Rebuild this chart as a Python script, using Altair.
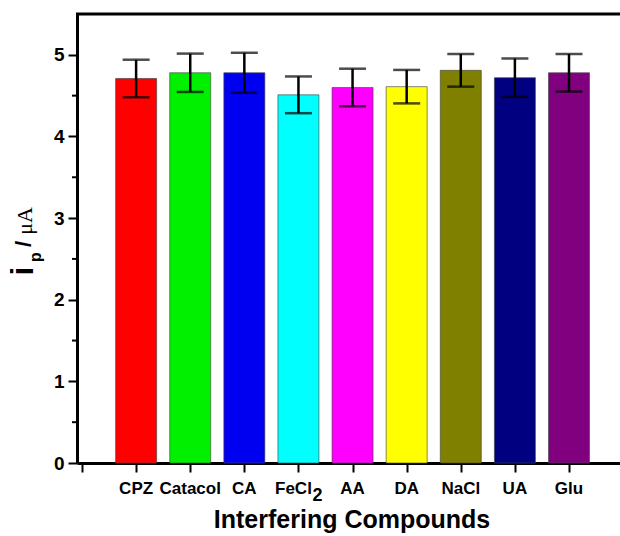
import altair as alt
import pandas as pd

# ---- data ----
compounds = ["CPZ", "Catacol", "CA", "FeCl2", "AA", "DA", "NaCl", "UA", "Glu"]
means = [4.71, 4.78, 4.78, 4.51, 4.60, 4.61, 4.81, 4.72, 4.78]
errors = [0.23, 0.235, 0.245, 0.225, 0.23, 0.205, 0.20, 0.235, 0.23]
y_major = [0, 1, 2, 3, 4, 5]
y_minor = [0.5, 1.5, 2.5, 3.5, 4.5]
palette = ["#FF0000", "#00F000", "#0000F0", "#00FFFF", "#FF00FF",
           "#FFFF00", "#808000", "#000080", "#800080"]

positions = list(range(1, len(compounds) + 1))
df = pd.DataFrame({
    "compound": compounds,
    "pos": positions,
    "mean": means,
    "lo": [m - e for m, e in zip(means, errors)],
    "hi": [m + e for m, e in zip(means, errors)],
})
plain = df[df["compound"] != "FeCl2"]
fecl = df[df["compound"] == "FeCl2"].assign(main="FeCl", sub="2")
minor_df = pd.DataFrame({"v": y_minor})
top_df = pd.DataFrame({"v": [5.5]})

W, H = 543, 449
SANS = "Liberation Sans, Arial, sans-serif"
SERIF = "Liberation Serif, Times New Roman, serif"

xscale = alt.Scale(domain=[0, 9.85], nice=False, zero=False)
yscale = alt.Scale(domain=[0, 5.5], nice=False)

base = alt.Chart(df)

bars = base.mark_bar(size=41, stroke="#444444", strokeWidth=0.8, strokeOpacity=0.8).encode(
    x=alt.X("pos:Q", scale=xscale,
            axis=alt.Axis(values=list(range(10)), labels=False, title=None, grid=False,
                          tickSize=9, tickWidth=2, tickColor="black",
                          domainWidth=3, domainColor="black")),
    y=alt.Y("mean:Q", scale=yscale,
            axis=alt.Axis(values=y_major, format="d", title=None, grid=False,
                          tickSize=9, tickWidth=2, tickColor="black",
                          domainWidth=3, domainColor="black",
                          labelFont=SANS, labelFontSize=19, labelFontWeight="bold",
                          labelColor="black", labelPadding=4)),
    color=alt.Color("compound:N", scale=alt.Scale(domain=compounds, range=palette), legend=None),
)

err_rule = base.mark_rule(color="black", strokeWidth=2.5).encode(
    x="pos:Q", y="lo:Q", y2="hi:Q")
cap_lo = base.mark_tick(color="black", orient="horizontal", size=27, thickness=2.5).encode(
    x="pos:Q", y="lo:Q")
cap_hi = base.mark_tick(color="black", orient="horizontal", size=27, thickness=2.5).encode(
    x="pos:Q", y="hi:Q")

minor = alt.Chart(minor_df).mark_rule(color="black", strokeWidth=2).encode(
    y=alt.Y("v:Q", scale=yscale), x=alt.value(-5), x2=alt.value(0))

top = alt.Chart(top_df).mark_rule(color="black", strokeWidth=3).encode(
    y=alt.Y("v:Q", scale=yscale), x=alt.value(-1), x2=alt.value(W))

xlab = alt.Chart(plain).mark_text(font=SANS, fontSize=17, fontWeight="bold",
                                  color="black", align="center", baseline="alphabetic").encode(
    x=alt.X("pos:Q", scale=xscale), y=alt.value(480), text="compound:N")
xlab_fe = alt.Chart(fecl).mark_text(font=SANS, fontSize=17, fontWeight="bold",
                                    color="black", align="center", baseline="alphabetic", dx=-5).encode(
    x=alt.X("pos:Q", scale=xscale), y=alt.value(480), text="main:N")
xlab_sub = alt.Chart(fecl).mark_text(font=SANS, fontSize=18, fontWeight="bold",
                                     color="black", align="left", baseline="alphabetic", dx=14).encode(
    x=alt.X("pos:Q", scale=xscale), y=alt.value(487), text="sub:N")

xtitle = alt.Chart(pd.DataFrame({"t": ["Interfering Compounds"]})).mark_text(
    font=SANS, fontSize=25, fontWeight="bold", color="black",
    align="center", baseline="alphabetic").encode(
    x=alt.value(275), y=alt.value(514), text="t:N")

yt_i = alt.Chart(pd.DataFrame({"t": ["i"]})).mark_text(
    font=SANS, fontSize=32, fontWeight="bold", color="black", angle=270,
    align="center", baseline="alphabetic").encode(
    x=alt.value(-44), y=alt.value(257), text="t:N")
yt_p = alt.Chart(pd.DataFrame({"t": ["p"]})).mark_text(
    font=SANS, fontSize=16, fontWeight="bold", color="black", angle=270,
    align="center", baseline="alphabetic").encode(
    x=alt.value(-36), y=alt.value(243), text="t:N")
yt_sl = alt.Chart(pd.DataFrame({"t": ["/"]})).mark_text(
    font=SANS, fontSize=22, fontWeight="bold", color="black", angle=270,
    align="center", baseline="alphabetic").encode(
    x=alt.value(-46), y=alt.value(230), text="t:N")
yt_ua = alt.Chart(pd.DataFrame({"t": ["μA"]})).mark_text(
    font=SERIF, fontSize=22, color="black", angle=270,
    align="center", baseline="alphabetic").encode(
    x=alt.value(-45), y=alt.value(207), text="t:N")

chart = alt.layer(
    bars, err_rule, cap_lo, cap_hi, minor, top,
    xlab, xlab_fe, xlab_sub, xtitle, yt_i, yt_p, yt_sl, yt_ua
).properties(
    width=W, height=H,
    autosize=alt.AutoSizeParams(type="none"),
    padding={"left": 77, "top": 14, "right": 0, "bottom": 73},
    background="white",
).configure_view(stroke=None)

chart.save("out.html", embed_options={"renderer": "svg", "actions": False})
